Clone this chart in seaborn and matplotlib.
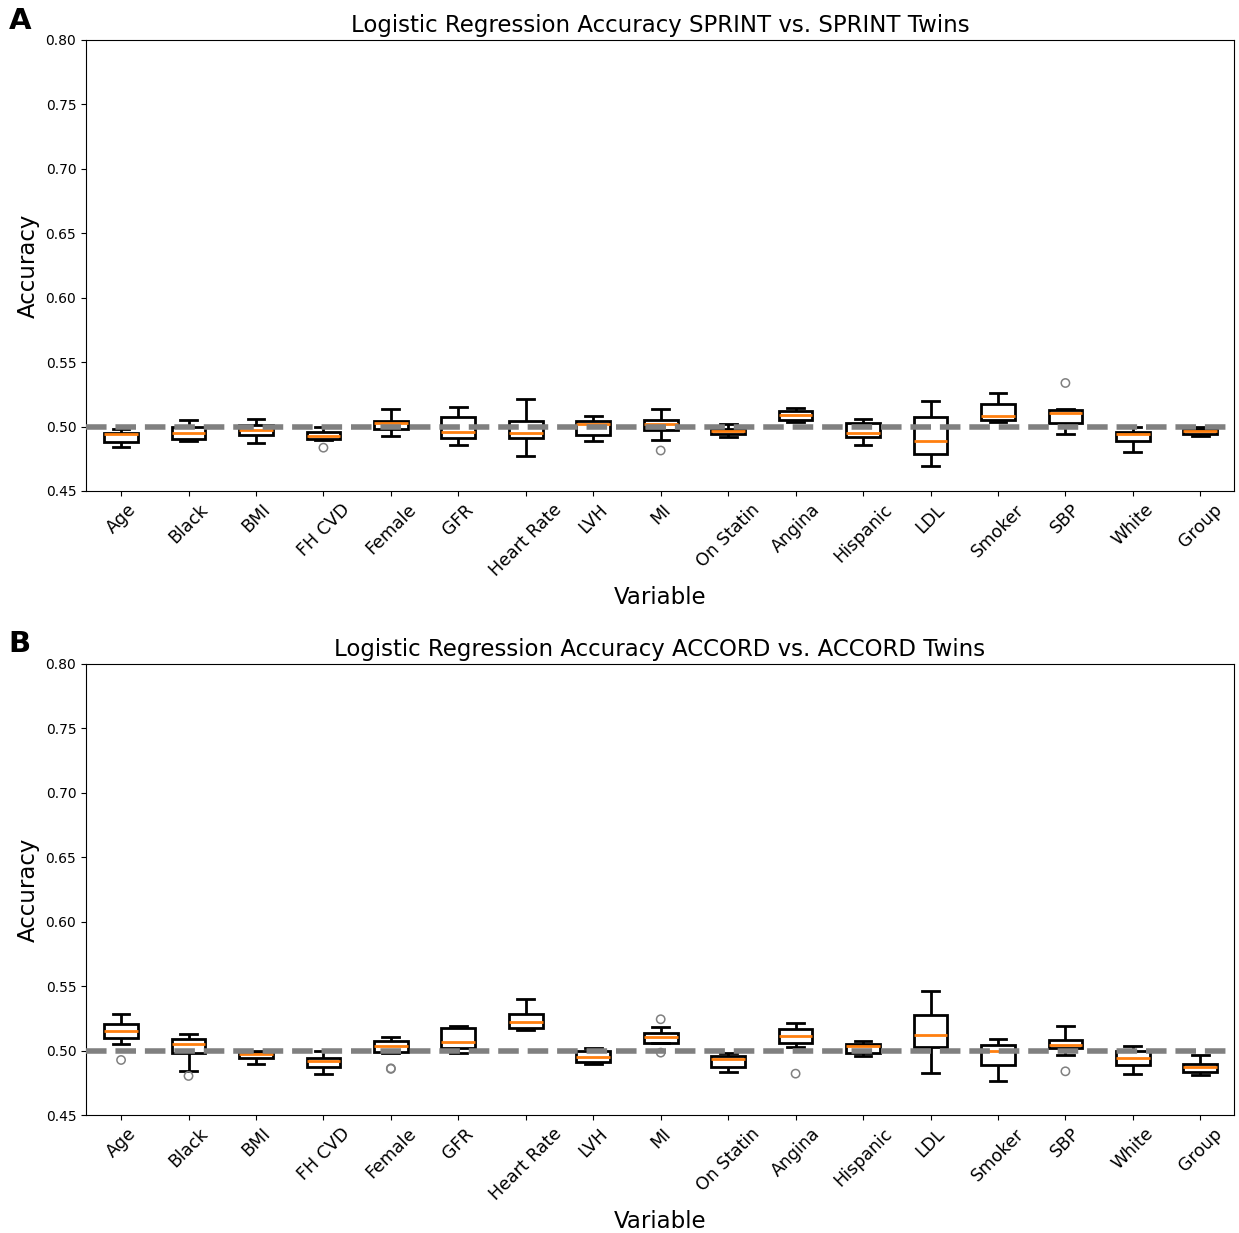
import numpy as np
import pandas as pd
import matplotlib
matplotlib.use("Agg")
import matplotlib.pyplot as plt
import seaborn as sns

plt.rcParams['font.family'] = ['DejaVu Sans']

variables = ['Age', 'Black', 'BMI', 'FH CVD', 'Female', 'GFR', 'Heart Rate', 'LVH', 'MI',
             'On Statin', 'Angina', 'Hispanic', 'LDL', 'Smoker', 'SBP', 'White', 'Group']

# Panel A: SPRINT vs. SPRINT Twins (whisker low, Q1, median, Q3, whisker high)
sprint_low = [0.4839, 0.4886, 0.4870, 0.4894, 0.4927, 0.4860, 0.4770, 0.4888, 0.4897,
              0.4917, 0.5036, 0.4855, 0.4692, 0.5033, 0.4943, 0.4803, 0.4930]
sprint_q1 = [0.4878, 0.4901, 0.4932, 0.4905, 0.4979, 0.4912, 0.4909, 0.4935, 0.4974,
             0.4943, 0.5051, 0.4919, 0.4787, 0.5051, 0.5028, 0.4886, 0.4943]
sprint_med = [0.4940, 0.4950, 0.4974, 0.4925, 0.5030, 0.4958, 0.4948, 0.5020, 0.5021,
              0.4963, 0.5088, 0.4948, 0.4890, 0.5082, 0.5103, 0.4940, 0.4963]
sprint_q3 = [0.4953, 0.4999, 0.5010, 0.4958, 0.5046, 0.5077, 0.5043, 0.5046, 0.5052,
             0.4984, 0.5123, 0.5026, 0.5077, 0.5178, 0.5126, 0.4958, 0.4984]
sprint_high = [0.4979, 0.5051, 0.5059, 0.5000, 0.5139, 0.5152, 0.5217, 0.5080, 0.5137,
               0.5020, 0.5144, 0.5057, 0.5196, 0.5263, 0.5134, 0.4999, 0.4999]
sprint_flier_var = ['FH CVD', 'MI', 'SBP']
sprint_flier_val = [0.4836, 0.4814, 0.5338]

# Panel B: ACCORD vs. ACCORD Twins
accord_low = [0.5051, 0.4844, 0.4898, 0.4818, 0.4984, 0.4984, 0.5162, 0.4898, 0.5057,
              0.4831, 0.5028, 0.4961, 0.4824, 0.4762, 0.4968, 0.4816, 0.4813]
accord_q1 = [0.5095, 0.4984, 0.4945, 0.4870, 0.4989, 0.5018, 0.5178, 0.4914, 0.5060,
             0.4875, 0.5057, 0.4979, 0.5028, 0.4888, 0.5018, 0.4888, 0.4831]
accord_med = [0.5150, 0.5051, 0.4971, 0.4917, 0.5036, 0.5067, 0.5220, 0.4948, 0.5108,
              0.4932, 0.5116, 0.5033, 0.5123, 0.4995, 0.5041, 0.4943, 0.4875]
accord_q3 = [0.5204, 0.5090, 0.4992, 0.4945, 0.5075, 0.5173, 0.5284, 0.4997, 0.5139,
             0.4956, 0.5170, 0.5051, 0.5276, 0.5041, 0.5080, 0.4997, 0.4896]
accord_high = [0.5282, 0.5131, 0.5000, 0.4997, 0.5103, 0.5189, 0.5398, 0.5023, 0.5181,
               0.4979, 0.5212, 0.5072, 0.5460, 0.5088, 0.5189, 0.5036, 0.4966]
accord_flier_var = ['Age', 'Black', 'Female', 'Female', 'MI', 'MI', 'Angina', 'SBP']
accord_flier_val = [0.4927, 0.4803, 0.4862, 0.4858, 0.5243, 0.4984, 0.4821, 0.4839]

titles = ['Logistic Regression Accuracy SPRINT vs. SPRINT Twins',
          'Logistic Regression Accuracy ACCORD vs. ACCORD Twins']
panel_letters = ['A', 'B']
yticks = [0.45, 0.50, 0.55, 0.60, 0.65, 0.70, 0.75, 0.80]
baseline = 0.5


def summary_table(low, q1, med, q3, high):
    rows = []
    for v, a, b, c, d, e in zip(variables, low, q1, med, q3, high):
        for val in (a, b, c, d, e):
            rows.append({'Variable': v, 'Accuracy': val})
    return pd.DataFrame(rows)


panels = [
    (summary_table(sprint_low, sprint_q1, sprint_med, sprint_q3, sprint_high),
     pd.DataFrame({'Variable': sprint_flier_var, 'Accuracy': sprint_flier_val})),
    (summary_table(accord_low, accord_q1, accord_med, accord_q3, accord_high),
     pd.DataFrame({'Variable': accord_flier_var, 'Accuracy': accord_flier_val})),
]

fig = plt.figure(figsize=(12.39, 12.33), dpi=100)
rects = [[0.0694, 0.6018, 0.9266, 0.3658], [0.0694, 0.0957, 0.9266, 0.3658]]
letter_y = [0.994, 0.489]

for i, (box_df, flier_df) in enumerate(panels):
    ax = fig.add_axes(rects[i])
    sns.boxplot(data=box_df, x='Variable', y='Accuracy', order=variables, ax=ax,
                whis=(0, 100), width=0.5, color='white', linecolor='black',
                linewidth=2, showfliers=False,
                medianprops={'color': '#ff7f0e', 'linewidth': 2})
    sns.stripplot(data=flier_df, x='Variable', y='Accuracy', order=variables, ax=ax,
                  jitter=False, marker='o', size=6, color='none',
                  edgecolor='#808080', linewidth=1.1, zorder=5)
    ax.axhline(baseline, color='gray', linestyle='--', linewidth=4, zorder=4)
    ax.set_ylim(0.45, 0.80)
    ax.set_xlim(-0.52, len(variables) - 0.5)
    ax.set_yticks(yticks)
    ax.set_yticklabels([f'{t:.2f}' for t in yticks], fontsize=10)
    ax.tick_params(axis='x', labelrotation=45, labelsize=12.5)
    ax.set_title(titles[i], fontsize=16.5)
    ax.set_xlabel('Variable', fontsize=16.5)
    ax.set_ylabel('Accuracy', fontsize=16.5)
    for s in ax.spines.values():
        s.set_visible(True)
        s.set_color('black')
    fig.text(0.007, letter_y[i], panel_letters[i], fontsize=21, fontweight='bold',
             va='top', ha='left')

fig.savefig('out.png', dpi=100)
